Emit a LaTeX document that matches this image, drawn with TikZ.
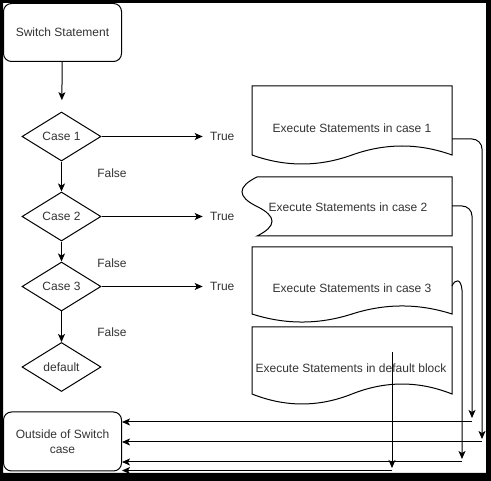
\documentclass[tikz,border=0pt]{standalone}
\usepackage{fontspec}
\setmainfont{Liberation Sans}
\usetikzlibrary{shapes.geometric,arrows.meta}
\definecolor{txt}{HTML}{333333}
\begin{document}
\begin{tikzpicture}[x=1pt,y=-1pt, line width=1pt,
  every node/.style={font=\fontsize{12}{15}\selectfont, text=txt},
  box/.style={draw, rounded corners=8pt, minimum width=118pt, minimum height=58pt, inner sep=0pt, align=center},
  dia/.style={draw, diamond, minimum width=79pt, minimum height=49pt, inner sep=0pt, shape aspect=1.6},
  lbl/.style={inner sep=0pt},
  arr/.style={-{Stealth[length=8pt,width=7pt,inset=2pt]}}]
\useasboundingbox (0,0) rectangle (491,481);
\fill[white] (0,0) rectangle (491,481);

% left column
\node[box] (sw) at (62.5,32.5) {Switch Statement};
\node[dia] (c1) at (61.5,136.5) {Case 1};
\node[dia] (c2) at (61.5,216.5) {Case 2};
\node[dia] (c3) at (61.5,286.5) {Case 3};
\node[dia] (df) at (61.5,367) {default};
\node[box, minimum height=59pt] (out) at (62.5,441.5) {Outside of Switch\\case};

\node[lbl] (t1) at (222.3,136.5) {True};
\node[lbl] (t2) at (222.3,216.5) {True};
\node[lbl] (t3) at (222.3,286.5) {True};
\node[lbl] (f1) at (112,173) {False};
\node[lbl] (f2) at (112,263) {False};
\node[lbl] (f3) at (112,332) {False};

\draw[arr, shorten >=11.5pt] (sw) -- (c1);
\draw[arr] (c1) -- (c2);
\draw[arr] (c2) -- (c3);
\draw[arr] (c3) -- (df);
\draw[arr, shorten >=7pt] (c1.east) -- (t1.west);
\draw[arr, shorten >=7pt] (c2.east) -- (t2.west);
\draw[arr, shorten >=7pt] (c3.east) -- (t3.west);

% documents
\draw (252,86) -- (452,86) -- (452,155) .. controls (418.7,143) and (385.3,143) .. (352,155)
      .. controls (318.7,167) and (285.3,167) .. (252,155) -- cycle;
\node[lbl] (e1) at (352,128) {Execute Statements in case 1};

\draw (257,177) -- (452,177) -- (452,236) -- (257,236) .. controls (277,226.2) and (277,216.3) .. (257,206.5)
      .. controls (237,196.7) and (237,186.8) .. (257,177) -- cycle;
\node[lbl] (e2) at (348,207) {Execute Statements in case 2};

\draw (252,247) -- (452,247) -- (452,314) .. controls (418.7,303.3) and (385.3,303.3) .. (352,314)
      .. controls (318.7,324.7) and (285.3,324.7) .. (252,314) -- cycle;
\node[lbl] (e3) at (352,288) {Execute Statements in case 3};

\draw (252,327) -- (452,327) -- (452,394) .. controls (418.7,380.7) and (385.3,380.7) .. (352,394)
      .. controls (318.7,407.3) and (285.3,407.3) .. (252,394) -- cycle;
\node[lbl] (e4) at (351,368) {Execute Statements in default block};

% connection points
\coordinate (d1r) at (452,139);
\coordinate (d2r) at (452,206);
\coordinate (d3r) at (452,286);
\coordinate (d4s) at (392,352);
\coordinate (k1) at (482,439); \coordinate (h1) at (482,442);
\coordinate (k2) at (472,418); \coordinate (h2) at (472,422);
\coordinate (k3) at (462,459); \coordinate (h3) at (462,462);
\coordinate (k4) at (392,468); \coordinate (h4) at (392,470.5);

\draw[arr, rounded corners=10pt] (d1r) -- (d1r -| k1) -- (k1);
\draw[arr, rounded corners=10pt] (d2r) -- (d2r -| k2) -- (k2);
\draw[arr] (d3r) .. controls (455,279) and (461,278) .. (462,290) -- (k3);
\draw[arr] (d4s) -- (k4);
\draw[arr] (h1) -- (h1 -| out.east);
\draw[arr] (h2) -- (h2 -| out.east);
\draw[arr] (h3) -- (h3 -| out.east);
\draw[arr] (h4) -- (h4 -| out.east);

% black frame
\fill[black, even odd rule] (0,0) rectangle (491,481) (3,3) rectangle (486,473);
\end{tikzpicture}
\end{document}
